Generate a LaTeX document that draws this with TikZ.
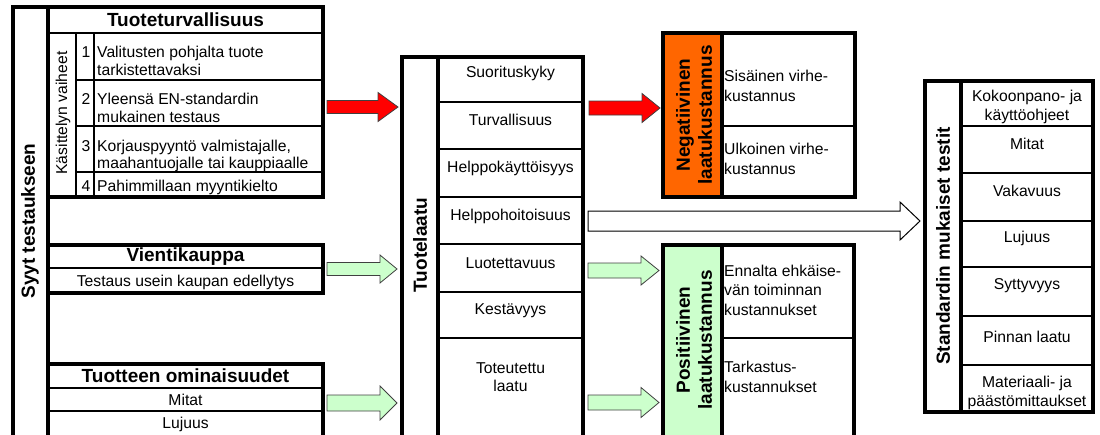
\documentclass[tikz,border=0pt]{standalone}
\usepackage{fontspec}
\setmainfont{Liberation Sans}
\usetikzlibrary{calc}
\definecolor{negorange}{HTML}{FF6600}
\definecolor{posgreen}{HTML}{CCFFCC}
\definecolor{arrred}{HTML}{FF0000}
\newcommand\fs[1]{\fontsize{15.7}{#1}\selectfont}
\tikzset{
 thickline/.style={line width=3.4pt},
 thinline/.style={line width=2pt},
 txt/.style={font=\fs{18}, inner sep=0pt},
 ltxt/.style={inner sep=0pt, align=left, anchor=west, font=\fs{#1}},
 ltxt/.default=18,
 ctxt/.style={inner sep=0pt, align=center, font=\fs{#1}},
 ctxt/.default=18,
 btxt/.style={font=\bfseries\fontsize{19}{22}\selectfont, inner sep=0pt, align=center},
 redarrow/.style={fill=arrred, draw=black!75, line width=0.8pt},
 greenarrow/.style={fill=posgreen, draw=black!75, line width=0.8pt},
 whitearrow/.style={fill=white, draw=black, line width=1pt},
}
% style, start, end, body half, head half, head length
\newcommand\blockarrow[6]{%
 \filldraw[#1] ($(#2)+(0,-#4)$) -- ($(#3)+(-#6,-#4)$) -- ($(#3)+(-#6,-#5)$) -- (#3)
   -- ($(#3)+(-#6,#5)$) -- ($(#3)+(-#6,#4)$) -- ($(#2)+(0,#4)$) -- cycle;}
\begin{document}
\begin{tikzpicture}[x=1pt,y=-1pt]
\useasboundingbox (0,0) rectangle (1100,434);
\clip (0,0) rectangle (1100,434);

% ---- left: Syyt testaukseen
\draw[thickline] (13,445) -- (13,7) -- (48,7);
\draw[thickline] (48,7) -- (48,445);
\node[btxt, rotate=90] (syyt) at (30,221) {Syyt testaukseen};

% Tuoteturvallisuus
\draw[thickline] (48,7) rectangle (323,197);
\draw[thinline] (48,33) -- (323,33);
\draw[thinline] (76,33) -- (76,197) (94,33) -- (94,197);
\draw[thinline] (76,80) -- (323,80) (76,126) -- (323,126) (76,172) -- (323,172);
\node[btxt] (tt) at (185.5,20) {Tuoteturvallisuus};
\node[txt, rotate=90] (kv) at (63,113) {Käsittelyn vaiheet};
\node[txt] (n1) at (86,52) {1};
\node[txt] (n2) at (86,99) {2};
\node[txt] (n3) at (86,146) {3};
\node[txt] (n4) at (86,186) {4};
\node[ltxt=17.7] (r1) at (97,61) {Valitusten pohjalta tuote\\tarkistettavaksi};
\node[ltxt=17.7] (r2) at (97,108) {Yleensä EN-standardin\\mukainen testaus};
\node[ltxt=17.7] (r3) at (97,156) {Korjauspyyntö valmistajalle,\\maahantuojalle tai kauppiaalle};
\node[ltxt] (r4) at (97,187) {Pahimmillaan myyntikielto};

% Vientikauppa
\draw[thickline] (48,245) rectangle (323,293);
\draw[thinline] (48,268) -- (323,268);
\node[btxt] (vk) at (185.5,257) {Vientikauppa};
\node[ctxt] (vk1) at (185.5,282) {Testaus usein kaupan edellytys};

% Tuotteen ominaisuudet
\draw[thickline] (48,445) -- (48,364) -- (323,364) -- (323,445);
\draw[thinline] (48,388) -- (323,388) (48,411) -- (323,411);
\node[btxt] (to) at (185.5,376) {Tuotteen ominaisuudet};
\node[ctxt] (to1) at (185.5,400) {Mitat};
\node[ctxt] (to2) at (185.5,424) {Lujuus};

% ---- middle: Tuotelaatu
\draw[thickline] (402,445) -- (402,57) -- (583,57) -- (583,445);
\draw[thickline] (438,57) -- (438,445);
\foreach \yy in {102,149,197,244,292,338} \draw[thinline] (438,\yy) -- (583,\yy);
\node[btxt, rotate=90] (tl) at (420,245) {Tuotelaatu};
\node[ctxt] (m1) at (510.5,73) {Suorituskyky};
\node[ctxt] (m2) at (510.5,120) {Turvallisuus};
\node[ctxt] (m3) at (510.5,168) {Helppokäyttöisyys};
\node[ctxt] (m4) at (510.5,216) {Helppohoitoisuus};
\node[ctxt] (m5) at (510.5,263) {Luotettavuus};
\node[ctxt] (m6) at (510.5,311) {Kestävyys};
\node[ctxt] (m7) at (510.5,377) {Toteutettu\\laatu};

% ---- Negatiivinen laatukustannus
\fill[negorange] (663,33) rectangle (722,197);
\draw[thickline] (663,33) rectangle (855,197);
\draw[thickline] (722,33) -- (722,197);
\draw[thinline] (722,126) -- (855,126);
\node[btxt, rotate=90] (neg) at (694,115) {Negatiivinen\\laatukustannus};
\node[ltxt=19.5] (neg1) at (724,86) {Sisäinen virhe-\\kustannus};
\node[ltxt=19.5] (neg2) at (724,159) {Ulkoinen virhe-\\kustannus};

% ---- Positiivinen laatukustannus
\fill[posgreen] (663,245) rectangle (722,445);
\draw[thickline] (663,445) -- (663,245) -- (854,245) -- (854,445);
\draw[thickline] (722,245) -- (722,445);
\draw[thinline] (722,338) -- (854,338);
\node[btxt, rotate=90] (pos) at (694,340) {Positiivinen\\laatukustannus};
\node[ltxt=19.5] (pos1) at (724,290) {Ennalta ehkäise-\\vän toiminnan\\kustannukset};
\node[ltxt=19.5] (pos2) at (724,377) {Tarkastus-\\kustannukset};

% ---- Standardin mukaiset testit
\draw[thickline] (925,81) rectangle (1093,412);
\draw[thickline] (961,81) -- (961,412);
\foreach \yy in {126,173,221,267,316,365} \draw[thinline] (961,\yy) -- (1093,\yy);
\node[btxt, rotate=90] (std) at (943,246) {Standardin mukaiset testit};
\node[ctxt=19] (s1) at (1027,107) {Kokoonpano- ja\\käyttöohjeet};
\node[ctxt] (s2) at (1027,144) {Mitat};
\node[ctxt] (s3) at (1027,191) {Vakavuus};
\node[ctxt] (s4) at (1027,238) {Lujuus};
\node[ctxt] (s5) at (1027,286) {Syttyvyys};
\node[ctxt] (s6) at (1027,337) {Pinnan laatu};
\node[ctxt=19] (s7) at (1027,393) {Materiaali- ja\\päästömittaukset};

% ---- block arrows
\coordinate (ra1s) at (327,107); \coordinate (ra1e) at (398,107);
\coordinate (ra2s) at (589,108); \coordinate (ra2e) at (660,108);
\coordinate (ga1s) at (327,269); \coordinate (ga1e) at (397,269);
\coordinate (ga2s) at (327,403); \coordinate (ga2e) at (397,403);
\coordinate (ga3s) at (588,270.5); \coordinate (ga3e) at (659,270.5);
\coordinate (ga4s) at (588,402.5); \coordinate (ga4e) at (659,402.5);
\coordinate (wa1s) at (588,221); \coordinate (wa1e) at (920,221);
\blockarrow{redarrow}{ra1s}{ra1e}{6.5}{14.5}{20}
\blockarrow{redarrow}{ra2s}{ra2e}{7}{14.5}{18}
\blockarrow{greenarrow}{ga1s}{ga1e}{6.5}{14}{17}
\blockarrow{greenarrow}{ga2s}{ga2e}{8}{17}{17}
\blockarrow{greenarrow}{ga3s}{ga3e}{7.5}{14.5}{18}
\blockarrow{greenarrow}{ga4s}{ga4e}{7.5}{15}{18}
\blockarrow{whitearrow}{wa1s}{wa1e}{10}{19}{20}
\end{tikzpicture}
\end{document}
